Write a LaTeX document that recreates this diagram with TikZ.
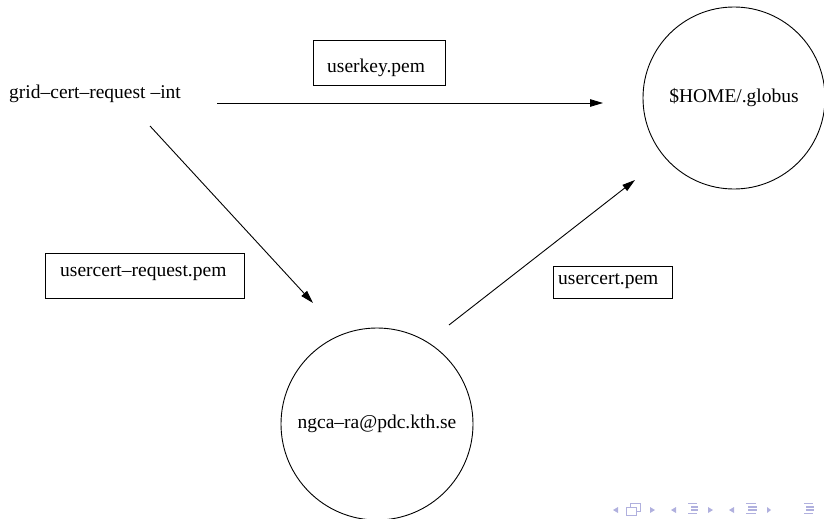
\documentclass[tikz,border=0pt]{standalone}
\usepackage{fontspec}
\setmainfont{Liberation Serif}
\usetikzlibrary{arrows.meta}
\definecolor{navc}{RGB}{176,176,222}
\tikzset{
  lbl/.style={font=\fontsize{19.5}{23}\selectfont, inner sep=0pt},
  fbox/.style={draw, line width=0.9pt, rectangle, inner sep=0pt},
  ring/.style={draw, line width=0.9pt, circle, inner sep=0pt, font=\fontsize{19.5}{23}\selectfont},
  conn/.style={line width=0.9pt, -{Triangle[length=13pt,width=7.5pt]}},
  navtri/.style={fill=navc, draw=none},
  navline/.style={draw=navc, line width=1.2pt}
}
\begin{document}
\begin{tikzpicture}[x=1pt,y=-1pt]
\useasboundingbox (0,0) rectangle (824,519);
% nodes
\node[lbl, anchor=base west] (cmd) at (9,98) {grid–cert–request –int};
\node[ring, minimum size=182pt] (home) at (734,98) {\$HOME/.globus};
\node[ring, minimum size=192pt] (ca) at (377,424) {ngca–ra@pdc.kth.se};
% label boxes
\node[fbox, minimum width=132pt, minimum height=45pt] (kbox) at (379,62.5) {};
\node[lbl, anchor=base west] (ktext) at (327,72) {userkey.pem};
\node[fbox, minimum width=199pt, minimum height=45pt] (rbox) at (144.5,275.5) {};
\node[lbl, anchor=base west] (rtext) at (60,276) {usercert–request.pem};
\node[fbox, minimum width=119pt, minimum height=32pt] (cbox) at (612.5,282) {};
\node[lbl, anchor=base west] (ctext) at (558,284) {usercert.pem};
% connector ends
\coordinate (k1) at (217,103);
\coordinate (k2) at (603,103);
\coordinate (r1) at (150,126);
\coordinate (r2) at (313,303);
\coordinate (c1) at (449,325);
\coordinate (c2) at (635,180);
\draw[conn] (k1) -- (k2);
\draw[conn] (r1) -- (r2);
\draw[conn] (c1) -- (c2);
% navigation symbols
\fill[navtri] (618,507) -- (618,513) -- (613,510) -- cycle;
\draw[draw=navc, fill=white, line width=1pt] (630,503) rectangle (640,511);
\draw[draw=navc, fill=white, line width=1pt] (626,507) rectangle (636,515);
\fill[navtri] (650,507) -- (650,513) -- (655,510) -- cycle;
\fill[navtri] (676,507) -- (676,513) -- (671,510) -- cycle;
\draw[navline] (688,503.5) -- (697,503.5);
\draw[navline] (691,507) -- (698,507);
\draw[navline] (691,510) -- (698,510);
\draw[navline] (688,513.5) -- (697,513.5);
\fill[navtri] (708,507) -- (708,513) -- (713,510) -- cycle;
\fill[navtri] (734,507) -- (734,513) -- (729,510) -- cycle;
\draw[navline] (746,503.5) -- (756,503.5);
\draw[navline] (748,507) -- (757,507);
\draw[navline] (748,510) -- (757,510);
\draw[navline] (746,513.5) -- (756,513.5);
\fill[navtri] (767,507) -- (767,513) -- (771,510) -- cycle;
\draw[navline] (804,503.5) -- (813,503.5);
\draw[navline] (806,507) -- (814,507);
\draw[navline] (806,510) -- (814,510);
\draw[navline] (804,513.5) -- (813,513.5);
\end{tikzpicture}
\end{document}
